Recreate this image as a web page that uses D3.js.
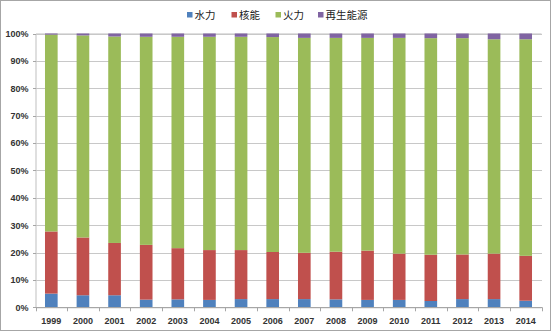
<!DOCTYPE html>
<html>
<head>
<meta charset="utf-8">
<script src="https://cdn.jsdelivr.net/npm/d3@7"></script>
<style>
  html, body { margin: 0; padding: 0; background: #fff; }
  svg { display: block; }
</style>
</head>
<body>
<svg id="chart" width="552" height="332"></svg>
<script>
// Electricity generation mix by source, share of total (%)
const years = ["1999","2000","2001","2002","2003","2004","2005","2006","2007","2008","2009","2010","2011","2012","2013","2014"];
const seriesNames = ["水力", "核能", "火力", "再生能源"];
const hydro     = [5.0, 4.4, 4.4, 2.8, 2.9, 2.7, 3.0, 3.0, 3.0, 2.9, 2.7, 2.7, 2.3, 3.0, 3.0, 2.4];
const nuclear   = [22.7, 21.1, 19.1, 20.0, 18.7, 18.2, 17.9, 17.2, 16.9, 17.4, 18.0, 16.9, 16.9, 16.3, 16.6, 16.4];
const thermal   = [71.9, 73.8, 75.4, 76.0, 77.2, 77.9, 77.9, 78.5, 78.5, 78.1, 77.7, 78.8, 79.1, 79.0, 78.3, 79.1];
const renewable = [0.4, 0.7, 1.1, 1.2, 1.2, 1.2, 1.2, 1.3, 1.6, 1.6, 1.6, 1.6, 1.7, 1.7, 2.1, 2.1];
const yTicks = [0, 0.1, 0.2, 0.3, 0.4, 0.5, 0.6, 0.7, 0.8, 0.9, 1.0];
const colors = ["#4F81BD", "#C0504D", "#9BBB59", "#8064A2"];

const rows = years.map((y, i) => ({
  year: y,
  [seriesNames[0]]: hydro[i],
  [seriesNames[1]]: nuclear[i],
  [seriesNames[2]]: thermal[i],
  [seriesNames[3]]: renewable[i]
}));

const svg = d3.select("#chart");
const W = 552, H = 332;
const plot = { left: 35.5, right: 541.5, top: 33.5, bottom: 307.3 };

// outer frame
svg.append("rect")
  .attr("x", 0.5).attr("y", 0.5)
  .attr("width", W - 2).attr("height", H - 2)
  .attr("fill", "#fff").attr("stroke", "#a6a6a6");

const x = d3.scaleBand().domain(years).range([plot.left, plot.right]).paddingInner(0.6).paddingOuter(0.3);
const y = d3.scaleLinear().domain([0, 1]).range([plot.bottom, plot.top]);

const stack = d3.stack().keys(seriesNames).offset(d3.stackOffsetExpand);
const stacked = stack(rows);

// horizontal gridlines + y labels
const yAxis = d3.axisLeft(y).tickValues(yTicks).tickFormat(d3.format(".0%"))
  .tickSize(-(plot.right - plot.left)).tickPadding(7);
const gy = svg.append("g").attr("transform", `translate(${plot.left},0)`).call(yAxis);
gy.select(".domain").attr("stroke", "#bfbfbf");
gy.selectAll(".tick line").attr("stroke", "#c8c8c8").attr("shape-rendering", "crispEdges");
gy.selectAll(".tick line").clone().attr("x2", -3).attr("stroke", "#a6a6a6");
gy.selectAll(".tick text")
  .attr("font-family", "Liberation Sans, Arial, sans-serif")
  .attr("font-size", 9).attr("font-weight", "bold").attr("fill", "#333");

// stacked bars
svg.append("g").selectAll("g").data(stacked).join("g")
  .attr("fill", (d, i) => colors[i])
  .selectAll("rect").data(d => d).join("rect")
  .attr("x", d => x(d.data.year))
  .attr("width", x.bandwidth())
  .attr("y", d => y(d[1]))
  .attr("height", d => y(d[0]) - y(d[1]));

// x axis with ticks between categories
const step = x.step();
const gx = svg.append("g").attr("transform", `translate(0,${plot.bottom})`);
gx.append("line").attr("x1", plot.left).attr("x2", plot.right)
  .attr("stroke", "#a6a6a6").attr("shape-rendering", "crispEdges");
gx.selectAll("line.sep").data(d3.range(years.length + 1)).join("line")
  .attr("class", "sep")
  .attr("x1", i => Math.round(plot.left + i * step) + 0.5)
  .attr("x2", i => Math.round(plot.left + i * step) + 0.5)
  .attr("y1", 0).attr("y2", 4)
  .attr("stroke", "#a6a6a6");
gx.selectAll("text").data(years).join("text")
  .attr("x", d => x(d) + x.bandwidth() / 2)
  .attr("y", 17)
  .attr("text-anchor", "middle")
  .attr("font-family", "Liberation Sans, Arial, sans-serif")
  .attr("font-size", 9).attr("font-weight", "bold").attr("fill", "#333")
  .text(d => d);

// legend
const legendX = [187, 231.5, 275.5, 318];
const lg = svg.append("g").selectAll("g").data(seriesNames).join("g")
  .attr("transform", (d, i) => `translate(${legendX[i]},15)`);
lg.append("rect").attr("x", 0).attr("y", -3).attr("width", 5.5).attr("height", 5.5)
  .attr("fill", (d, i) => colors[i]);
lg.append("text").attr("x", 7.5).attr("y", 4)
  .attr("font-family", "Noto Sans CJK TC, Noto Sans CJK SC, sans-serif")
  .attr("font-size", 10.5).attr("fill", "#222")
  .text(d => d);
</script>
</body>
</html>
